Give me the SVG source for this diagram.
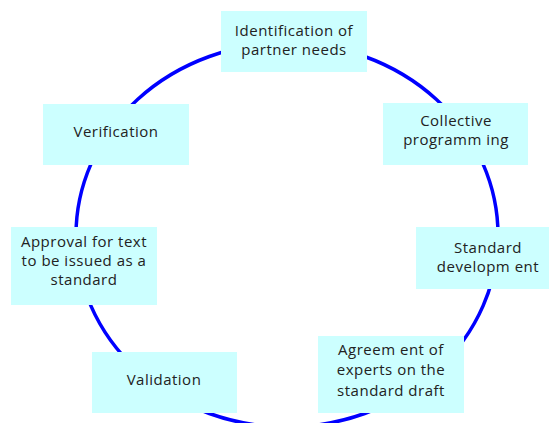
<svg xmlns="http://www.w3.org/2000/svg" width="549" height="423" viewBox="0 0 549 423">
<style>
.box{fill:#CCFFFF;stroke:none}
.t{font-family:"Open Sans","Liberation Sans",sans-serif;font-size:15px;letter-spacing:0.5px;fill:#222;text-anchor:middle}
.ring{fill:none;stroke:#0000FF;stroke-width:3.5}
</style>
<rect width="549" height="423" fill="#fff"/>
<g id="connectors">
<ellipse class="ring" cx="287" cy="235" rx="211" ry="192"/>
</g>
<g id="n1"><rect class="box" x="221" y="11" width="146" height="61"/>
<text class="t" x="294" y="36">Identification of</text><text class="t" x="294" y="55">partner needs</text></g>
<g id="n2"><rect class="box" x="383" y="103" width="145" height="62"/>
<text class="t" x="456" y="126">Collective</text><text class="t" x="456" y="145">programm ing</text></g>
<g id="n3"><rect class="box" x="416" y="227" width="133" height="62"/>
<text class="t" x="488" y="253">Standard</text><text class="t" x="488" y="272">developm ent</text></g>
<g id="n4"><rect class="box" x="318" y="336" width="146" height="77"/>
<text class="t" x="391" y="355">Agreem ent of</text><text class="t" x="391" y="375">experts on the</text><text class="t" x="391" y="396">standard draft</text></g>
<g id="n5"><rect class="box" x="92" y="352" width="145" height="61"/>
<text class="t" x="164" y="385">Validation</text></g>
<g id="n6"><rect class="box" x="11" y="227" width="146" height="78"/>
<text class="t" x="84" y="247">Approval for text</text><text class="t" x="84" y="266">to be issued as a</text><text class="t" x="84" y="285">standard</text></g>
<g id="n7"><rect class="box" x="43" y="104" width="146" height="61"/>
<text class="t" x="116" y="137">Verification</text></g>
</svg>
